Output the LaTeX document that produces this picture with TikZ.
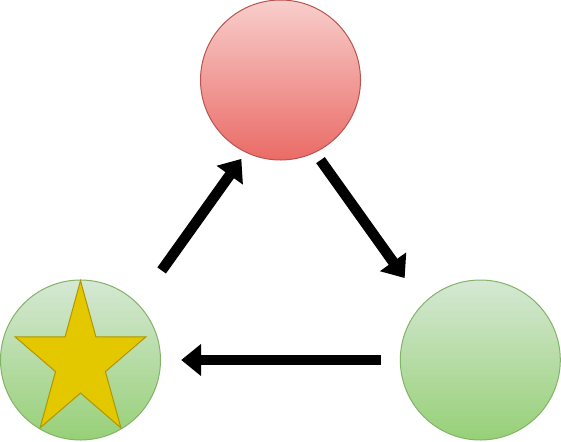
\documentclass[tikz,border=0pt]{standalone}
\usepackage{xcolor}
\usetikzlibrary{arrows.meta, shapes.geometric}
\definecolor{redtop}{HTML}{F8CECC}
\definecolor{redbot}{HTML}{EA6B66}
\definecolor{redline}{HTML}{B85450}
\definecolor{greentop}{HTML}{D5E8D4}
\definecolor{greenbot}{HTML}{97D077}
\definecolor{greenline}{HTML}{82B366}
\definecolor{starfill}{HTML}{E3C800}
\definecolor{starline}{HTML}{B09500}
\tikzset{ball/.style={circle, line width=1pt, minimum size=160pt, inner sep=0pt}}
\tikzset{red ball/.style={ball, draw=redline, top color=redtop, bottom color=redbot}}
\tikzset{green ball/.style={ball, draw=greenline, top color=greentop, bottom color=greenbot}}
\tikzset{fat arrow/.style={line width=10.5pt, -{Triangle[length=20pt,width=31pt]}}}

\begin{document}
\begin{tikzpicture}[x=1pt, y=1pt]
    \useasboundingbox (0,0) rectangle (561,-441);
    \newcommand\posT{280.5}
    \newcommand\posL{80.5}
    \newcommand\posR{480.3}

    \node[red ball] (topball) at (\posT, -80){};
    \node[green ball] (leftball) at (\posL, -360){};
    \node[green ball] (rightball) at (\posR, -360){};

    \node[star, star points=5, star point ratio=2.618, minimum size=162.6pt, inner sep=0pt, xscale=0.845, line width=1pt, draw=starline, fill=starfill] (starmark) at (\posL, -362){};

    \draw[fat arrow, shorten <=120pt, shorten >=87pt] ([shift={(11.4,-8.1)}]leftball.center) -- ([shift={(11.4,-8.1)}]topball.center);
    \draw[fat arrow, shorten <=88.5pt, shorten >=110.6pt] ([shift={(-11.4,-8.1)}]topball.center) -- ([shift={(-11.4,-8.1)}]rightball.center);
    \draw[fat arrow, shorten <=99.6pt, shorten >=100.7pt] (rightball.center) -- (leftball.center);
\end{tikzpicture}
\end{document}
